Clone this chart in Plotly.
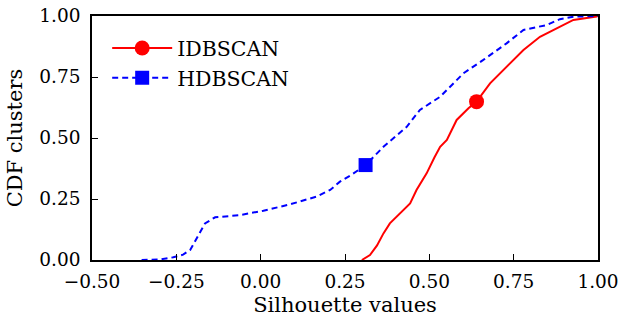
import plotly.graph_objects as go

# IDBSCAN CDF
idb_x = [0.300, 0.324, 0.345, 0.364, 0.383, 0.413, 0.443, 0.462, 0.492, 0.515, 0.532, 0.552, 0.581, 0.616, 0.640, 0.680, 0.729, 0.779, 0.828, 0.878, 0.927, 0.996, 1.0]
idb_y = [0.0, 0.020, 0.060, 0.109, 0.150, 0.191, 0.232, 0.287, 0.355, 0.420, 0.464, 0.492, 0.574, 0.622, 0.649, 0.724, 0.792, 0.861, 0.915, 0.950, 0.984, 0.998, 1.0]

# HDBSCAN CDF
hdb_x = [-0.353, -0.300, -0.259, -0.230, -0.209, -0.185, -0.165, -0.135, -0.061, 0.008, 0.087, 0.166, 0.206, 0.235, 0.270, 0.311, 0.364, 0.433, 0.472, 0.532, 0.601, 0.660, 0.729, 0.779, 0.848, 0.887, 0.927, 1.0]
hdb_y = [0.0, 0.002, 0.011, 0.022, 0.041, 0.100, 0.150, 0.175, 0.184, 0.202, 0.228, 0.260, 0.287, 0.321, 0.350, 0.389, 0.464, 0.546, 0.615, 0.669, 0.765, 0.820, 0.888, 0.943, 0.963, 0.987, 0.997, 1.0]

# marker positions
idb_mark = (0.640, 0.649)
hdb_mark = (0.311, 0.389)

x_ticks = [-0.5, -0.25, 0.0, 0.25, 0.5, 0.75, 1.0]
y_ticks = [0.0, 0.25, 0.5, 0.75, 1.0]

FONT = "DejaVu Serif"
TICK_SIZE = 18.5
TITLE_SIZE = 21
fig = go.Figure()
fig.add_trace(go.Scatter(x=idb_x, y=idb_y, mode="lines", line=dict(color="#ff0000", width=2), showlegend=False))
fig.add_trace(go.Scatter(x=hdb_x, y=hdb_y, mode="lines", line=dict(color="#0000ff", width=2, dash="6px,4px"), showlegend=False))
fig.add_trace(go.Scatter(x=[idb_mark[0]], y=[idb_mark[1]], mode="lines+markers", name="IDBSCAN",
                         line=dict(color="#ff0000", width=2),
                         marker=dict(symbol="circle", size=15, color="#ff0000")))
fig.add_trace(go.Scatter(x=[hdb_mark[0]], y=[hdb_mark[1]], mode="lines+markers", name="HDBSCAN",
                         line=dict(color="#0000ff", width=2, dash="6px,4px"),
                         marker=dict(symbol="square", size=14, color="#0000ff")))

axis_common = dict(showline=True, linecolor="black", linewidth=1.5, mirror=True,
                   ticks="inside", ticklen=6, tickwidth=1.2, tickcolor="black",
                   showgrid=False, zeroline=False, automargin=False,
                   tickfont=dict(family=FONT, size=TICK_SIZE, color="black"))
fig.update_xaxes(range=[-0.5, 1.0], tickvals=x_ticks, tickformat=".2f", ticklabelstandoff=4,
                 title=dict(text="Silhouette values", font=dict(family=FONT, size=TITLE_SIZE, color="black"), standoff=6),
                 **axis_common)
fig.update_yaxes(range=[0, 1.0], tickvals=y_ticks, tickformat=".2f", ticklabelstandoff=6,
                 title=dict(text="CDF clusters", font=dict(family=FONT, size=TITLE_SIZE, color="black"), standoff=11),
                 **axis_common)
fig.update_layout(
    width=621, height=318,
    margin=dict(l=92, r=23, t=16, b=58),
    plot_bgcolor="white", paper_bgcolor="white",
    font=dict(family=FONT, size=TICK_SIZE, color="black"),
    legend=dict(x=0.03, y=0.95, xanchor="left", yanchor="top", bgcolor="rgba(0,0,0,0)",
                font=dict(family=FONT, size=20.5, color="black"), itemwidth=60, tracegroupgap=0),
)
fig.write_html("out.html", config={"displayModeBar": False},
               post_script="document.body.style.margin='0';document.body.style.padding='0';")
